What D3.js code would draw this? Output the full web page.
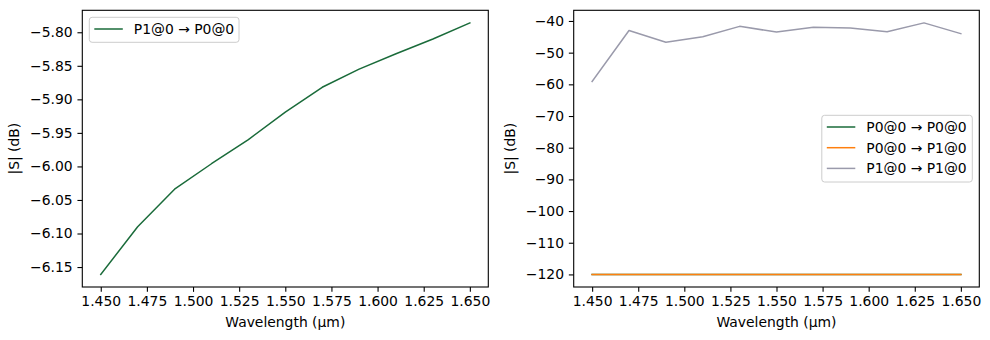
<!DOCTYPE html>
<html>
<head>
<meta charset="utf-8">
<script src="https://cdn.jsdelivr.net/npm/d3@7/dist/d3.min.js"></script>
<style>
  html, body { margin: 0; padding: 0; background: #fff; }
  svg { display: block; }
  text { font-family: "DejaVu Sans", sans-serif; fill: #000; }
</style>
</head>
<body>
<svg id="chart" width="990" height="340"></svg>
<script>
// Wavelength sweep (µm)
const wavelengths = [1.45, 1.47, 1.49, 1.51, 1.53, 1.55, 1.57, 1.59, 1.61, 1.63, 1.65];

// Transmission P1@0 → P0@0 (dB)
const s_p1_p0 = [-6.161, -6.090, -6.034, -5.996, -5.960, -5.919, -5.882, -5.855, -5.832, -5.810, -5.786];

// Reflection / isolation terms (dB)
const s_p0_p0 = [-120, -120, -120, -120, -120, -120, -120, -120, -120, -120, -120];
const s_p0_p1 = [-120, -120, -120, -120, -120, -120, -120, -120, -120, -120, -120];
const s_p1_p1 = [-59.1, -43.0, -46.7, -45.0, -41.7, -43.5, -42.0, -42.2, -43.4, -40.6, -44.0];

// Tick labels
const xTicks = [1.450, 1.475, 1.500, 1.525, 1.550, 1.575, 1.600, 1.625, 1.650];
const yTicksLeft = [-6.15, -6.10, -6.05, -6.00, -5.95, -5.90, -5.85, -5.80];
const yTicksRight = [-120, -110, -100, -90, -80, -70, -60, -50, -40];

const leftSeries = [
  { name: "P1@0 → P0@0", values: s_p1_p0, color: "#1a6b3a" }
];
const rightSeries = [
  { name: "P0@0 → P0@0", values: s_p0_p0, color: "#1a6b3a" },
  { name: "P0@0 → P1@0", values: s_p0_p1, color: "#ff7f0e" },
  { name: "P1@0 → P1@0", values: s_p1_p1, color: "#9a9aab" }
];

const svg = d3.select("#chart");
const FS = 13.9;          // 10pt at 100 dpi
const TICK = 4.86;        // 3.5pt

// padded extent, 5% on each side
function padded(vals) {
  const [a, b] = d3.extent(vals);
  const m = (b - a) * 0.05;
  return [a - m, b + m];
}

function panel(opts) {
  const { x0, x1, y0, y1, series, yTicks, yFmt, legend } = opts;
  const g = svg.append("g");

  const x = d3.scaleLinear().domain(padded(wavelengths)).range([x0, x1]);
  const allY = series.flatMap(s => s.values);
  const y = d3.scaleLinear().domain(padded(allY)).range([y1, y0]);

  // lines
  const line = d3.line().x((d, i) => x(wavelengths[i])).y(d => y(d));
  series.forEach(s => {
    g.append("path")
      .datum(s.values)
      .attr("d", line)
      .attr("fill", "none")
      .attr("stroke", s.color)
      .attr("stroke-width", 1.5)
      .attr("stroke-linejoin", "round")
      .attr("stroke-linecap", "square");
  });

  // axes
  const xa = g.append("g")
    .attr("transform", `translate(0,${y1})`)
    .call(d3.axisBottom(x).tickValues(xTicks).tickFormat(d3.format(".3f"))
      .tickSize(TICK).tickPadding(4.2));
  const ya = g.append("g")
    .attr("transform", `translate(${x0},0)`)
    .call(d3.axisLeft(y).tickValues(yTicks).tickFormat(d3.format(yFmt))
      .tickSize(TICK).tickPadding(4.86));
  [xa, ya].forEach(a => {
    a.select(".domain").remove();
    a.selectAll("line").attr("stroke", "#000").attr("stroke-width", 1.1);
    a.selectAll("text").attr("font-size", FS).attr("font-family", "DejaVu Sans, sans-serif").attr("fill", "#000");
  });

  // frame
  g.append("rect")
    .attr("x", x0).attr("y", y0)
    .attr("width", x1 - x0).attr("height", y1 - y0)
    .attr("fill", "none").attr("stroke", "#000").attr("stroke-width", 1.1);

  // axis titles
  g.append("text")
    .attr("x", (x0 + x1) / 2).attr("y", 327)
    .attr("text-anchor", "middle").attr("font-size", FS)
    .text("Wavelength (µm)");
  g.append("text")
    .attr("transform", `translate(${opts.ylabX},${(y0 + y1) / 2}) rotate(-90)`)
    .attr("text-anchor", "middle").attr("font-size", FS)
    .text("|S| (dB)");

  // legend
  const lg = g.append("g").attr("transform", `translate(${legend.x},${legend.y})`);
  lg.append("rect")
    .attr("width", legend.w).attr("height", legend.h)
    .attr("rx", 2.8).attr("ry", 2.8)
    .attr("fill", "#fff").attr("fill-opacity", 0.8)
    .attr("stroke", "#cccccc").attr("stroke-width", 1);
  series.forEach((s, i) => {
    const cy = 11.7 + i * 20.7;
    lg.append("line")
      .attr("x1", 5).attr("x2", 33.5)
      .attr("y1", cy).attr("y2", cy)
      .attr("stroke", s.color).attr("stroke-width", 1.5);
    lg.append("text")
      .attr("x", 44.5).attr("y", cy)
      .attr("dy", "0.36em")
      .attr("font-size", FS)
      .text(s.name);
  });
}

panel({
  x0: 82.3, x1: 488.3, y0: 10.3, y1: 287,
  series: leftSeries, yTicks: yTicksLeft, yFmt: ".2f", ylabX: 19,
  legend: { x: 89.3, y: 17.3, w: 149.7, h: 25 }
});
panel({
  x0: 573.7, x1: 979.3, y0: 10.3, y1: 287,
  series: rightSeries, yTicks: yTicksRight, yFmt: "d", ylabX: 515,
  legend: { x: 821.8, y: 115.3, w: 150.5, h: 66.7 }
});
</script>
</body>
</html>
